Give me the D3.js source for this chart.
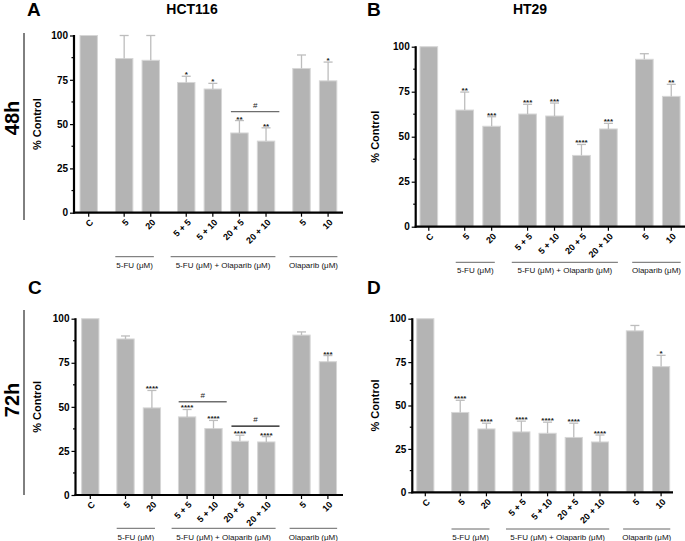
<!DOCTYPE html>
<html>
<head>
<meta charset="utf-8">
<script src="https://d3js.org/d3.v7.min.js"></script>
<style>
  body { margin: 0; background: #fff; }
  svg text { font-family: Arial, "Liberation Sans", sans-serif; }
</style>
</head>
<body>
<script>
// categories and groups
var categories = ["C", "5", "20", "5 + 5", "5 + 10", "20 + 5", "20 + 10", "5", "10"];
var groupOf = [0, 1, 1, 2, 2, 2, 2, 3, 3];
var groupNames = ["5-FU (\u03bcM)", "5-FU (\u03bcM) + Olaparib (\u03bcM)", "Olaparib (\u03bcM)"];
var yTicks = [0, 25, 50, 75, 100];

// panel A: HCT116 48h
var meanA = [100, 87, 86, 73.5, 69.8, 45, 40.4, 81.4, 74.4];
var errA  = [0, 13, 14, 3.5, 3.2, 7, 7.5, 7.6, 10.6];
var starA = ["", "", "", "*", "*", "**", "**", "", "*"];
// panel B: HT29 48h
var meanB = [100, 64.8, 55.8, 62.6, 61.5, 39.6, 54.3, 93, 72.4];
var errB  = [0, 10, 5.3, 5.4, 7.2, 6.1, 3.1, 3.1, 6.7];
var starB = ["", "**", "***", "***", "***", "****", "***", "", "**"];
// panel C: HCT116 72h
var meanC = [100, 88.5, 49.4, 44.3, 37.7, 30.5, 30.1, 90.7, 75.6];
var errC  = [0, 1.7, 9.9, 4.2, 4.6, 3.4, 3, 1.8, 3.5];
var starC = ["", "", "****", "****", "****", "****", "****", "", "***"];
// panel D: HT29 72h
var meanD = [100, 46, 36.5, 34.8, 34, 31.6, 29, 93, 72.4];
var errD  = [0, 7, 3.3, 6.2, 6.4, 8.2, 4, 3.1, 6.5];
var starD = ["", "****", "****", "****", "****", "****", "****", "", "*"];

// "#" brackets: [from bar, to bar, height]
var hashA = [[5, 6, 57]];
var hashC = [[3, 4, 52.9], [5, 6, 39.1]];

var svg = d3.select("body").append("svg")
    .attr("width", 685)
    .attr("height", 541);

var barFill = "#b4b4b4", barEdge = "#d6d6d6", errCol = "#bdbdbd";

// slot position: index plus extra space per group
function slot(i) { return i + groupOf[i] / 3 * 1.0; }
var groupSpan = [[1.0, 2.45], [3.08, 7.02], [7.55, 9.35]];

var panels = [
  {letter: "A", title: "HCT116", mean: meanA, err: errA, star: starA, hash: hashA,
   cx: 88.7, unit: 26.6, x0: 74, x1: 343, yTop: 35.5, yBot: 212.7, lineY: 256.7, textY: 268,
   ylx: 37, lx: 27, ly: 16, titleX: 192, titleY: 14},
  {letter: "B", title: "HT29", mean: meanB, err: errB, star: starB, hash: [],
   cx: 428.8, unit: 26.94, x0: 415.7, x1: 685, yTop: 46.7, yBot: 226.7, lineY: 262.3, textY: 273,
   ylx: 375, lx: 367, ly: 16, titleX: 530, titleY: 14},
  {letter: "C", title: "", mean: meanC, err: errC, star: starC, hash: hashC,
   cx: 90.3, unit: 26.4, x0: 75.5, x1: 343, yTop: 318.7, yBot: 495, lineY: 528.3, textY: 540,
   ylx: 37, lx: 28, ly: 294},
  {letter: "D", title: "", mean: meanD, err: errD, star: starD, hash: [],
   cx: 425.3, unit: 26.2, x0: 412.3, x1: 673, yTop: 318.7, yBot: 492.3, lineY: 529, textY: 540,
   ylx: 375, lx: 367, ly: 294}
];

panels.forEach(function(p) {
  var g = svg.append("g");
  var x = d3.scaleLinear().domain([0, 9]).range([p.cx, p.cx + 9 * p.unit]);
  var y = d3.scaleLinear().domain([0, 100]).range([p.yBot, p.yTop]);
  var bw = p.unit * 0.655;

  var rows = categories.map(function(c, i) {
    return {label: c, pos: slot(i), mean: p.mean[i], err: p.err[i], star: p.star[i]};
  });

  // bars
  g.selectAll("rect.bar").data(rows).enter().append("rect")
      .attr("class", "bar")
      .attr("x", d => x(d.pos) - bw / 2)
      .attr("width", bw)
      .attr("y", d => y(d.mean))
      .attr("height", d => y(0) - y(d.mean))
      .attr("fill", barFill)
      .attr("stroke", barEdge)
      .attr("stroke-width", 1);

  // error bars
  var eb = rows.filter(d => d.err > 0);
  g.selectAll("line.err").data(eb).enter().append("line")
      .attr("x1", d => x(d.pos)).attr("x2", d => x(d.pos))
      .attr("y1", d => y(d.mean)).attr("y2", d => y(d.mean + d.err))
      .attr("stroke", errCol).attr("stroke-width", 1.3);
  g.selectAll("line.cap").data(eb).enter().append("line")
      .attr("x1", d => x(d.pos) - 4.5).attr("x2", d => x(d.pos) + 4.5)
      .attr("y1", d => y(d.mean + d.err)).attr("y2", d => y(d.mean + d.err))
      .attr("stroke", errCol).attr("stroke-width", 1.3);

  // significance stars
  g.selectAll("text.star").data(rows.filter(d => d.star)).enter().append("text")
      .attr("x", d => x(d.pos))
      .attr("y", d => y(d.mean + d.err) + 1)
      .attr("text-anchor", "middle")
      .attr("font-size", 8)
      .attr("font-weight", "bold")
      .attr("fill", "#222")
      .text(d => d.star);

  // # brackets
  p.hash.forEach(function(h, k) {
    var xa = x(slot(h[0])) - 0.32 * p.unit, xb = x(slot(h[1])) + 0.5 * p.unit;
    g.append("line")
        .attr("x1", xa).attr("x2", xb)
        .attr("y1", y(h[2])).attr("y2", y(h[2]))
        .attr("stroke", k == 0 ? "#6e6e6e" : "#111").attr("stroke-width", 1.3);
    g.append("text")
        .attr("x", (xa + xb) / 2).attr("y", y(h[2]) - 4)
        .attr("text-anchor", "middle")
        .attr("font-size", 8)
        .attr("fill", "#222")
        .text("#");
  });

  // y axis
  var yAxis = g.append("g")
      .attr("transform", "translate(" + p.x0 + ",0)")
      .call(d3.axisLeft(y).tickValues(yTicks).tickSize(4).tickPadding(2));
  yAxis.select(".domain").remove();
  yAxis.selectAll("text").attr("font-size", 10).attr("font-weight", "bold")
      .attr("font-family", "Arial, 'Liberation Sans', sans-serif").attr("fill", "#000");
  yAxis.selectAll("line").attr("stroke-width", 1.2);
  g.selectAll("line.minor").data([12.5, 37.5, 62.5, 87.5]).enter().append("line")
      .attr("x1", p.x0 - 2.5).attr("x2", p.x0)
      .attr("y1", d => y(d)).attr("y2", d => y(d))
      .attr("stroke", "#000").attr("stroke-width", 1.2);
  g.append("line")
      .attr("x1", p.x0).attr("x2", p.x0)
      .attr("y1", y(100) - 0.5).attr("y2", y(0) + 1)
      .attr("stroke", "#000").attr("stroke-width", 2.2);

  // x axis
  g.append("line")
      .attr("x1", p.x0 - 1).attr("x2", p.x1)
      .attr("y1", y(0)).attr("y2", y(0))
      .attr("stroke", "#000").attr("stroke-width", 2.2);
  g.selectAll("line.xtick").data(rows).enter().append("line")
      .attr("x1", d => x(d.pos)).attr("x2", d => x(d.pos))
      .attr("y1", y(0)).attr("y2", y(0) + 4)
      .attr("stroke", "#000").attr("stroke-width", 1.2);
  g.selectAll("text.xlab").data(rows).enter().append("text")
      .attr("transform", d => "translate(" + (x(d.pos) + 3) + "," + (y(0) + 8) + ") rotate(-45)")
      .attr("text-anchor", "end")
      .attr("dy", "0.35em")
      .attr("font-size", 9)
      .attr("font-weight", "bold")
      .text(d => d.label);

  // group underlines
  groupNames.forEach(function(name, k) {
    var a = x(groupSpan[k][0]), b = x(groupSpan[k][1]);
    g.append("line")
        .attr("x1", a).attr("x2", b)
        .attr("y1", p.lineY).attr("y2", p.lineY)
        .attr("stroke", "#666").attr("stroke-width", 1);
    g.append("text")
        .attr("x", (a + b) / 2).attr("y", p.textY)
        .attr("text-anchor", "middle")
        .attr("font-size", 8)
        .attr("fill", "#111")
        .text(name);
  });

  // y label
  g.append("text")
      .attr("transform", "translate(" + p.ylx + "," + ((p.yTop + p.yBot) / 2) + ") rotate(-90)")
      .attr("text-anchor", "middle")
      .attr("dy", "0.35em")
      .attr("font-size", 11)
      .attr("font-weight", "bold")
      .text("% Control");

  // panel letter and title
  g.append("text")
      .attr("x", p.lx).attr("y", p.ly)
      .attr("font-size", 19)
      .attr("font-weight", "bold")
      .text(p.letter);
  if (p.title) {
    g.append("text")
        .attr("x", p.titleX).attr("y", p.titleY)
        .attr("text-anchor", "middle")
        .attr("font-size", 14)
        .attr("font-weight", "bold")
        .text(p.title);
  }
});

// row labels (time points)
var rowLabels = [{t: "48h", y: 118, a: 33, b: 220}, {t: "72h", y: 400, a: 310, b: 495}];
rowLabels.forEach(function(r) {
  svg.append("line")
      .attr("x1", 24).attr("x2", 24)
      .attr("y1", r.a).attr("y2", r.b)
      .attr("stroke", "#000").attr("stroke-width", 1);
  svg.append("text")
      .attr("transform", "translate(12," + r.y + ") rotate(-90)")
      .attr("text-anchor", "middle")
      .attr("dy", "0.35em")
      .attr("font-size", 20)
      .attr("font-weight", "bold")
      .text(r.t);
});
</script>
</body>
</html>
